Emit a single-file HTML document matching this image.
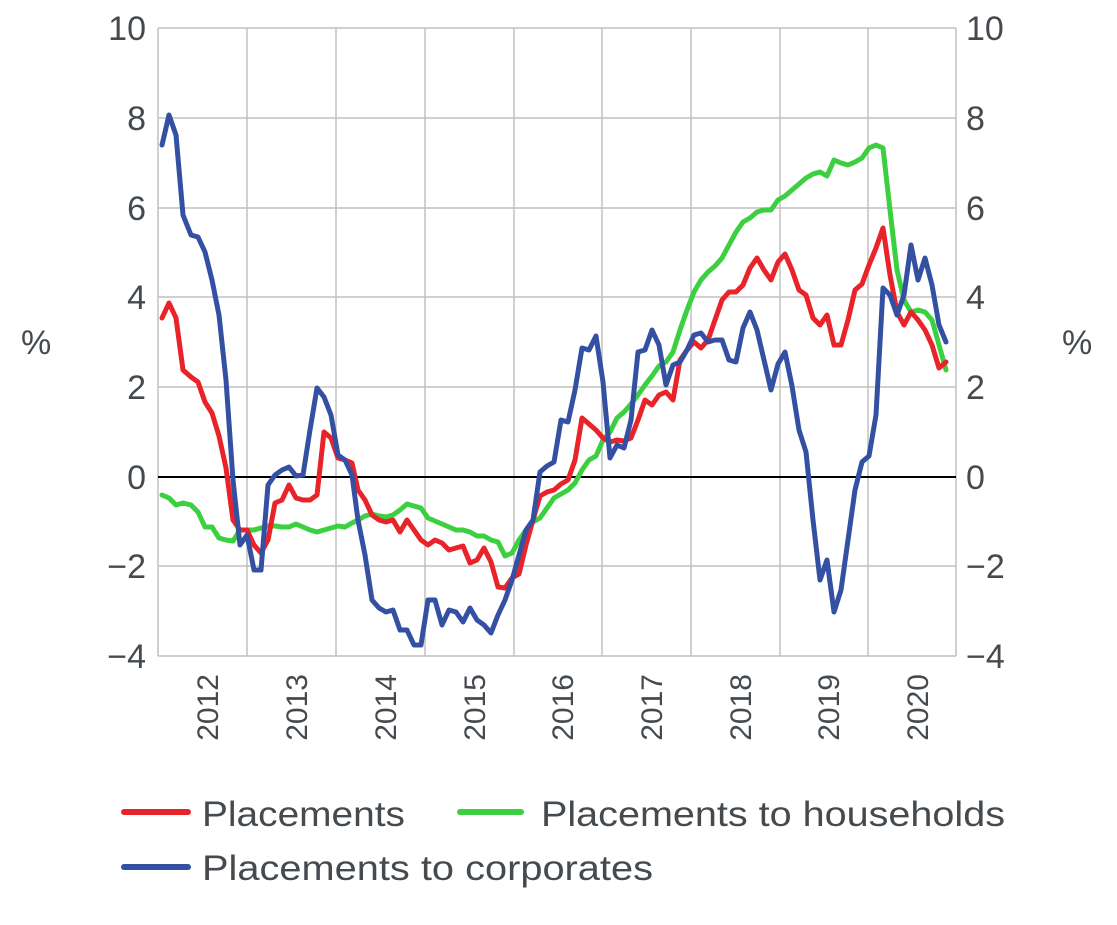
<!DOCTYPE html>
<html><head><meta charset="utf-8"><style>html,body{margin:0;padding:0;background:#fff}svg{display:block}</style></head>
<body>
<svg width="1117" height="925" viewBox="0 0 1117 925" xmlns="http://www.w3.org/2000/svg" font-family="Liberation Sans, sans-serif" fill="#454a4f">
<g stroke="#c0c0c0" stroke-width="1.5" fill="none">
<line x1="158" y1="28" x2="956" y2="28"/>
<line x1="158" y1="118" x2="956" y2="118"/>
<line x1="158" y1="208" x2="956" y2="208"/>
<line x1="158" y1="297" x2="956" y2="297"/>
<line x1="158" y1="387" x2="956" y2="387"/>
<line x1="158" y1="566" x2="956" y2="566"/>
<line x1="158" y1="656" x2="956" y2="656"/>
<line x1="158" y1="28" x2="158" y2="656"/>
<line x1="247" y1="28" x2="247" y2="656"/>
<line x1="336" y1="28" x2="336" y2="656"/>
<line x1="425" y1="28" x2="425" y2="656"/>
<line x1="514" y1="28" x2="514" y2="656"/>
<line x1="602" y1="28" x2="602" y2="656"/>
<line x1="691" y1="28" x2="691" y2="656"/>
<line x1="780" y1="28" x2="780" y2="656"/>
<line x1="868" y1="28" x2="868" y2="656"/>
<line x1="956" y1="28" x2="956" y2="656"/>
</g>
<line x1="158" y1="477" x2="956" y2="477" stroke="#000" stroke-width="2"/>
<g font-size="34" text-anchor="end">
<text x="146" y="40">10</text><text x="146" y="130">8</text><text x="146" y="220">6</text><text x="146" y="309">4</text><text x="146" y="399">2</text><text x="146" y="489">0</text><text x="146" y="578">−2</text><text x="146" y="668">−4</text>
</g>
<g font-size="34" text-anchor="start">
<text x="966" y="40">10</text><text x="966" y="130">8</text><text x="966" y="220">6</text><text x="966" y="309">4</text><text x="966" y="399">2</text><text x="966" y="489">0</text><text x="966" y="578">−2</text><text x="966" y="668">−4</text>
</g>
<text x="21" y="354" font-size="34">%</text>
<text x="1062" y="354" font-size="34">%</text>
<g font-size="30" text-anchor="end">
<text transform="translate(218,674) rotate(-90)">2012</text>
<text transform="translate(307,674) rotate(-90)">2013</text>
<text transform="translate(396,674) rotate(-90)">2014</text>
<text transform="translate(485,674) rotate(-90)">2015</text>
<text transform="translate(573,674) rotate(-90)">2016</text>
<text transform="translate(662,674) rotate(-90)">2017</text>
<text transform="translate(751,674) rotate(-90)">2018</text>
<text transform="translate(839,674) rotate(-90)">2019</text>
<text transform="translate(928,674) rotate(-90)">2020</text>
</g>
<g fill="none" stroke-width="5" stroke-linejoin="round" stroke-linecap="round">
<polyline stroke="#3ccf3f" points="162,495 169,498 176,505 183,503 191,505 198,512 205,527 212,527 219,538 226,540 233,541 240,530 247,530 254,530 261,528 268,526 275,526 282,527 289,527 296,524 303,527 310,530 317,532 324,530 331,528 338,526 345,527 352,523 358,520 365,516 372,514 379,516 386,517 393,515 400,510 407,504 414,506 421,508 428,518 435,521 442,524 449,527 456,530 463,530 470,532 477,536 484,536 491,540 498,542 505,556 512,553 519,540 526,530 533,522 540,518 547,508 554,498 561,494 568,490 575,483 582,470 589,460 596,456 603,440 610,432 617,418 624,412 631,404 638,395 645,385 652,376 659,366 666,362 673,352 680,330 687,310 694,292 701,280 708,272 715,266 722,258 729,245 736,232 743,222 750,218 757,212 764,210 771,210 778,200 785,196 792,190 799,184 806,178 813,174 820,172 827,176 834,160 841,163 848,165 855,162 862,158 869,148 876,145 883,148 890,210 897,270 904,300 911,312 918,310 925,312 932,320 939,345 946,370"/>
<polyline stroke="#e8232a" points="162,318 169,303 176,318 183,370 191,377 198,382 205,402 212,413 219,436 226,468 233,520 240,530 247,530 254,545 261,553 268,540 275,503 282,500 289,485 296,498 303,500 310,500 317,495 324,432 331,438 338,458 345,460 352,463 358,490 365,500 372,515 379,520 386,522 393,520 400,532 407,520 414,530 421,540 428,545 435,540 442,543 449,550 456,548 463,546 470,563 477,560 484,548 491,562 498,587 505,588 512,578 519,574 526,545 533,520 540,496 547,492 554,490 561,484 568,480 575,460 582,418 589,424 596,430 603,438 610,442 617,440 624,441 631,438 638,420 645,400 652,405 659,395 666,392 673,400 680,360 687,350 694,342 701,348 708,340 715,320 722,300 729,292 736,292 743,285 750,268 757,258 764,270 771,280 778,262 785,254 792,270 799,290 806,295 813,318 820,325 827,315 834,345 841,345 848,320 855,290 862,284 869,265 876,248 883,228 890,275 897,312 904,325 911,312 918,320 925,330 932,345 939,368 946,362"/>
<polyline stroke="#3450a2" points="162,145 169,115 176,135 183,215 191,235 198,237 205,252 212,280 219,315 226,380 233,480 240,545 247,535 254,570 261,570 268,485 275,475 282,470 289,467 296,476 303,475 310,430 317,388 324,397 331,415 338,455 345,460 352,475 358,520 365,555 372,600 379,608 386,612 393,610 400,630 407,630 414,645 421,645 428,600 435,600 442,625 449,610 456,612 463,622 470,608 477,620 484,625 491,633 498,615 505,600 512,580 519,555 526,530 533,520 540,472 547,466 554,462 561,420 568,422 575,390 582,348 589,350 596,336 603,382 610,458 617,445 624,448 631,420 638,352 645,350 652,330 659,345 666,385 673,365 680,362 687,350 694,335 701,333 708,342 715,340 722,340 729,360 736,362 743,328 750,312 757,330 764,360 771,390 778,364 785,352 792,386 799,430 806,452 813,520 820,580 827,560 834,612 841,590 848,540 855,490 862,462 869,456 876,415 883,288 890,295 897,315 904,295 911,245 918,280 925,258 932,285 939,325 946,342"/>
</g>
<g stroke-width="6" stroke-linecap="round">
<line x1="124" y1="812" x2="188" y2="812" stroke="#e8232a"/>
<line x1="460" y1="812" x2="521" y2="812" stroke="#3ccf3f"/>
<line x1="124" y1="867" x2="188" y2="867" stroke="#3450a2"/>
</g>
<g font-size="35">
<text x="202" y="826" textLength="203" lengthAdjust="spacingAndGlyphs">Placements</text>
<text x="541" y="826" textLength="464" lengthAdjust="spacingAndGlyphs">Placements to households</text>
<text x="202" y="880" textLength="451" lengthAdjust="spacingAndGlyphs">Placements to corporates</text>
</g>
</svg>
</body></html>
